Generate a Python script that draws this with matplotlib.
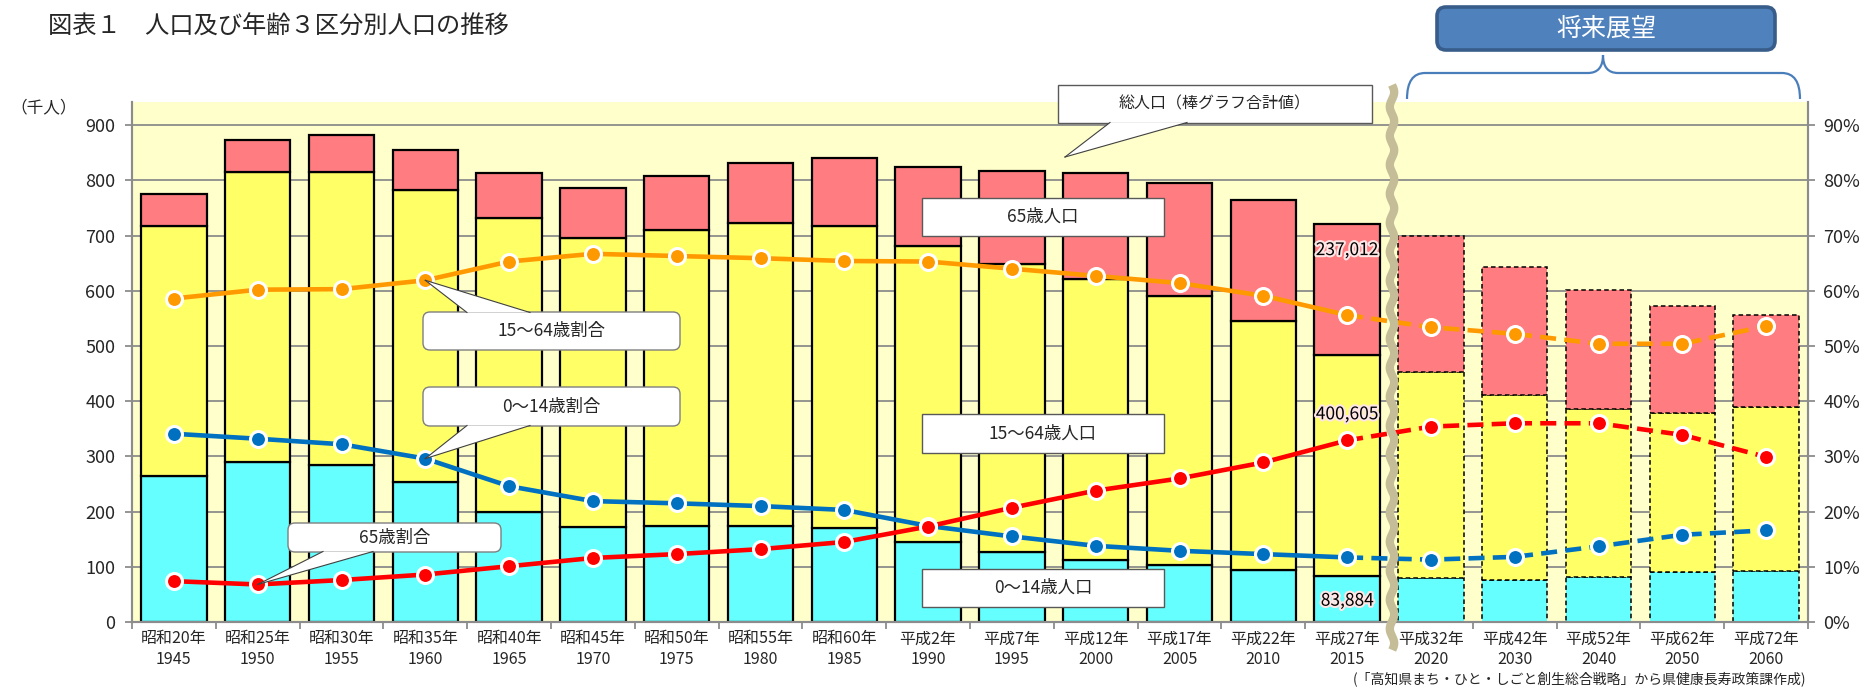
import numpy as np
import matplotlib
matplotlib.use('Agg')
import matplotlib.pyplot as plt
from matplotlib.patches import FancyBboxPatch, Rectangle, Polygon, PathPatch
from matplotlib.path import Path
from matplotlib.lines import Line2D
from matplotlib.transforms import Affine2D
import matplotlib.patheffects as pe

plt.rcParams['font.family'] = ['Noto Sans CJK JP', 'DejaVu Sans']

era_labels = ['昭和20年', '昭和25年', '昭和30年', '昭和35年', '昭和40年', '昭和45年', '昭和50年',
              '昭和55年', '昭和60年', '平成2年', '平成7年', '平成12年', '平成17年', '平成22年',
              '平成27年', '平成32年', '平成42年', '平成52年', '平成62年', '平成72年']
years = ['1945', '1950', '1955', '1960', '1965', '1970', '1975', '1980', '1985', '1990',
         '1995', '2000', '2005', '2010', '2015', '2020', '2030', '2040', '2050', '2060']

# 千人
pop_0_14 = [264, 290, 284, 254, 199, 173, 174, 174, 170, 145, 126, 112, 104, 94, 83.884,
            79, 76, 82, 90, 92]
pop_15_64 = [454, 525, 532, 528, 532, 523, 536, 548, 547, 537, 522, 510, 487, 451, 400.605,
             373, 336, 303, 289, 298]
pop_65 = [58, 59, 67, 73, 82, 91, 98, 109, 123, 143, 169, 192, 205, 219, 237.012,
          248, 232, 217, 194, 166]

# %
share_15_64 = [58.6, 60.2, 60.3, 61.9, 65.3, 66.7, 66.3, 65.9, 65.4, 65.3, 64.0, 62.7, 61.4,
               59.1, 55.6, 53.4, 52.2, 50.4, 50.4, 53.6]
share_0_14 = [34.1, 33.2, 32.2, 29.6, 24.6, 21.9, 21.5, 21.0, 20.3, 17.4, 15.5, 13.8, 12.9,
              12.3, 11.7, 11.3, 11.8, 13.7, 15.8, 16.6]
share_65 = [7.4, 6.8, 7.6, 8.6, 10.1, 11.6, 12.3, 13.2, 14.5, 17.3, 20.7, 23.8, 26.0, 28.9,
            32.9, 35.4, 36.0, 36.0, 33.9, 29.9]

last_actual = 14  # 平成27年 (2015) まで実績

W, H = 1869, 688
fig = plt.figure(figsize=(W / 100, H / 100), dpi=100)
# pixel coords, origin top-left
px = Affine2D().scale(1 / 100, -1 / 100).translate(0, H / 100) + fig.dpi_scale_trans

ax = fig.add_axes([132 / W, (H - 622) / H, (1808 - 132) / W, (622 - 102) / H])
ax.set_facecolor('#FFFFCC')
ax2 = ax.twinx()

x = np.arange(len(years))
a = np.array(pop_0_14)
b = np.array(pop_15_64)
c = np.array(pop_65)
hist = x <= last_actual
proj = ~hist

bw = 0.78
for m, style, lw in [(hist, '-', 1.6), (proj, (0, (3, 2)), 1.1)]:
    ax.bar(x[m], a[m], bw, color='#66FFFF', edgecolor='black', linewidth=lw, linestyle=style)
    ax.bar(x[m], b[m], bw, bottom=a[m], color='#FFFF66', edgecolor='black', linewidth=lw, linestyle=style)
    ax.bar(x[m], c[m], bw, bottom=a[m] + b[m], color='#FF7C80', edgecolor='black', linewidth=lw, linestyle=style)

ax.set_xlim(-0.5, len(years) - 0.5)
ax.set_ylim(0, 942)
ax.set_yticks(np.arange(0, 901, 100))
ax.yaxis.grid(True, color='#8C8C8C', linewidth=1.3)
ax.set_axisbelow(True)

ax.set_xticks(np.arange(-0.5, len(years), 1))
ax.set_xticklabels([])
ax.set_xticks(x, minor=True)
ax.set_xticklabels([e + '\n' + y for e, y in zip(era_labels, years)], minor=True,
                   fontsize=11.5, linespacing=1.25, color='#262626')
ax.tick_params(axis='x', which='major', length=5, color='#8C8C8C', width=1.3)
ax.tick_params(axis='x', which='minor', length=0, pad=6)
ax.tick_params(axis='y', length=5, color='#8C8C8C', width=1.3, labelsize=13, pad=7,
               labelcolor='#262626')

for sp in ['top']:
    ax.spines[sp].set_visible(False)
    ax2.spines[sp].set_visible(False)
for sp in ['left', 'right', 'bottom']:
    ax.spines[sp].set_color('#8C8C8C')
    ax.spines[sp].set_linewidth(1.5)
    ax2.spines[sp].set_color('#8C8C8C')
    ax2.spines[sp].set_linewidth(1.5)

ax2.set_ylim(0, 94.2)
ax2.set_yticks(np.arange(0, 91, 10))
ax2.set_yticklabels(['%d%%' % v for v in range(0, 91, 10)])
ax2.tick_params(axis='y', length=5, color='#8C8C8C', width=1.3, labelsize=13, pad=6,
                labelcolor='#262626')

for share, col in [(share_15_64, '#FF9900'), (share_0_14, '#0070C0'), (share_65, '#FF0000')]:
    s = np.array(share)
    ax2.plot(x[:last_actual + 1], s[:last_actual + 1], color=col, lw=3.3, solid_capstyle='round', zorder=3)
    ax2.plot(x[last_actual:], s[last_actual:], color=col, lw=3.3, ls=(0, (3.5, 1.8)), zorder=3)
    ax2.plot(x, s, 'o', ms=11.5, mfc=col, mec='white', mew=2.2, zorder=4)

# 平成27年の値ラベル
lab = dict(ha='center', va='center', fontsize=12.5, color='black', textcoords='offset points',
           path_effects=[pe.withStroke(linewidth=3, foreground='#FFE6E6')])
i = last_actual
ax.annotate('{:,}'.format(int(round(pop_65[i] * 1000))), (i, a[i] + b[i] + c[i]), xytext=(0, -19), **lab)
ax.annotate('{:,}'.format(int(round(pop_15_64[i] * 1000))), (i, a[i] + b[i]), xytext=(0, -43), **lab)
ax.annotate('{:,}'.format(int(round(pop_0_14[i] * 1000))), (i, a[i]), xytext=(0, -18), **lab)

# タイトル等
fig.text(48, 27, '図表１　人口及び年齢３区分別人口の推移', transform=px, fontsize=17.5,
         va='center', ha='left', color='#262626')
fig.text(10, 108, '（千人）', transform=px, fontsize=12, va='center', ha='left', color='#262626')
fig.text(1806, 679, '(「高知県まち・ひと・しごと創生総合戦略」から県健康長寿政策課作成)', transform=px,
         fontsize=10, va='center', ha='right', color='#262626')


def to_px(axis, xv, yv):
    d = axis.transData.transform((xv, yv))
    return px.inverted().transform(d)


def callout(x0, y0, x1, y1, text, tip, base, rounded, fs=12.5):
    if rounded:
        box = FancyBboxPatch((x0, y0), x1 - x0, y1 - y0, boxstyle='round,pad=0,rounding_size=7',
                             transform=px, facecolor='white', edgecolor='#7F7F7F', lw=1, zorder=5)
    else:
        box = Rectangle((x0, y0), x1 - x0, y1 - y0, transform=px, facecolor='white',
                        edgecolor='#595959', lw=1, zorder=5)
    fig.add_artist(box)
    if tip is not None:
        by = base[2]
        tri = Polygon([(base[0], by), tuple(tip), (base[1], by)], closed=True, transform=px,
                      facecolor='white', edgecolor='none', zorder=6)
        fig.add_artist(tri)
        for bx in base[:2]:
            fig.add_artist(Line2D([bx, tip[0]], [by, tip[1]], transform=px, color='#404040',
                                  lw=0.8, zorder=6))
    fig.text((x0 + x1) / 2, (y0 + y1) / 2, text, transform=px, fontsize=fs, ha='center',
             va='center', color='#262626', zorder=7)


callout(1058, 85, 1372, 123, '総人口（棒グラフ合計値）', (1065, 157), (1110, 1187, 122.5), False, fs=11.5)
callout(922, 198, 1164, 236, '65歳人口', None, None, False)
callout(922, 414, 1164, 453, '15～64歳人口', None, None, False)
callout(922, 569, 1164, 607, '0～14歳人口', None, None, False)
callout(423, 312, 680, 350, '15～64歳割合', to_px(ax2, 3, share_15_64[3]), (467, 530, 312.5), True)
callout(423, 387, 680, 426, '0～14歳割合', to_px(ax2, 3, share_0_14[3]), (467, 530, 425.5), True)
callout(288, 523, 501, 552, '65歳割合', to_px(ax2, 1, share_65[1]), (323, 373, 551.5), True)

# 波線（実績と推計の区切り）
yy = np.linspace(85, 650, 400)
xx = 1392 + 2.2 * np.sin(2 * np.pi * (yy - 85) / 29)
fig.add_artist(Line2D(xx, yy, transform=px, color='#C4BD97', lw=6, zorder=8,
                      solid_capstyle='butt'))

# 将来展望
brace = Path([(1407, 99), (1407, 73), (1425, 73), (1588, 73), (1603, 73), (1603, 55),
              (1603, 73), (1618, 73), (1782, 73), (1800, 73), (1800, 99)],
             [Path.MOVETO, Path.CURVE3, Path.CURVE3, Path.LINETO, Path.CURVE3, Path.CURVE3,
              Path.CURVE3, Path.CURVE3, Path.LINETO, Path.CURVE3, Path.CURVE3])
fig.add_artist(PathPatch(brace, transform=px, facecolor='none', edgecolor='#4A7EBB', lw=1.6, zorder=5))
fig.add_artist(FancyBboxPatch((1437, 7), 338, 43, boxstyle='round,pad=0,rounding_size=9',
                              transform=px, facecolor='#4F81BD', edgecolor='#385D8A', lw=2.6, zorder=5))
fig.text(1606, 29, '将来展望', transform=px, fontsize=18, color='white', ha='center',
         va='center', zorder=6)

fig.savefig('out.png', dpi=100)
